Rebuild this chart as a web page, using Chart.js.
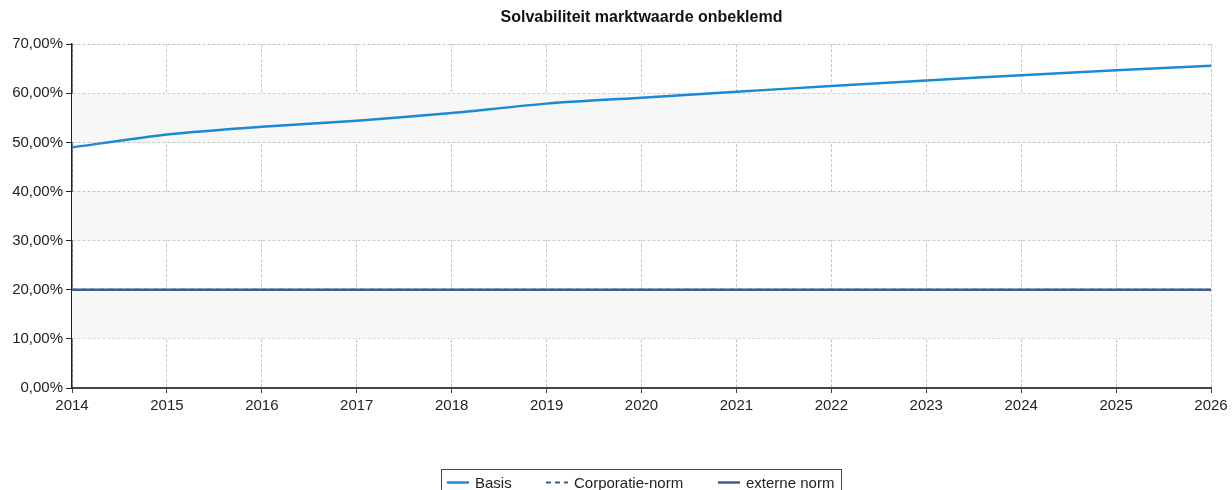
<!DOCTYPE html>
<html>
<head>
<meta charset="utf-8">
<title>Solvabiliteit marktwaarde onbeklemd</title>
<script src="https://cdn.jsdelivr.net/npm/chart.js@4"></script>
<style>
  html, body { margin: 0; padding: 0; background: #fff; }
  #wrap { width: 1232px; height: 490px; position: relative; }
</style>
</head>
<body>
<div id="wrap"><canvas id="chart"></canvas></div>
<script>
const years = ['2014', '2015', '2016', '2017', '2018', '2019', '2020', '2021', '2022', '2023', '2024', '2025', '2026'];
const basis = [49.0, 51.6, 53.2, 54.4, 56.0, 57.9, 59.1, 60.3, 61.5, 62.6, 63.7, 64.7, 65.6];
const corporatieNorm = [20, 20, 20, 20, 20, 20, 20, 20, 20, 20, 20, 20, 20];
const externeNorm = [20, 20, 20, 20, 20, 20, 20, 20, 20, 20, 20, 20, 20];
// grey bands behind the plot (from, to)
const bands = [[10, 20], [30, 40], [50, 60]];

const FONT = '"Liberation Sans", Arial, sans-serif';

const bandPlugin = {
    id: 'bands',
    beforeDatasetsDraw(chart) {
        const { ctx, chartArea, scales } = chart;
        ctx.save();
        ctx.fillStyle = '#f7f7f7';
        bands.forEach(b => {
            const y1 = scales.y.getPixelForValue(b[1]);
            const y2 = scales.y.getPixelForValue(b[0]);
            ctx.fillRect(chartArea.left, y1 + 0.5, chartArea.right - chartArea.left, y2 - y1 - 1);
        });
        ctx.restore();
    }
};

// boxed legend at the bottom, cut off by the canvas edge like the original
const legendPlugin = {
    id: 'boxLegend',
    afterDraw(chart) {
        const ctx = chart.ctx;
        const items = [
            { ds: 0, x: 447, tx: 475 },
            { ds: 1, x: 546, tx: 574 },
            { ds: 2, x: 718, tx: 746 }
        ];
        ctx.save();
        ctx.strokeStyle = '#444';
        ctx.lineWidth = 1;
        ctx.strokeRect(441.5, 469.5, 400, 40);
        ctx.font = '15px ' + FONT;
        ctx.textBaseline = 'middle';
        ctx.fillStyle = '#222';
        items.forEach(it => {
            const ds = chart.data.datasets[it.ds];
            ctx.beginPath();
            ctx.strokeStyle = ds.borderColor;
            ctx.lineWidth = ds.borderWidth;
            ctx.setLineDash(ds.borderDash || []);
            ctx.moveTo(it.x, 482.5);
            ctx.lineTo(it.x + 22, 482.5);
            ctx.stroke();
            ctx.setLineDash([]);
            ctx.fillText(ds.label, it.tx, 484);
        });
        ctx.restore();
    }
};

new Chart(document.getElementById('chart'), {
    type: 'line',
    data: {
        labels: years,
        datasets: [
            {
                label: 'Basis',
                data: basis,
                borderColor: '#1b8ad4',
                borderWidth: 2.5,
                pointRadius: 0,
                tension: 0.2,
                order: 0
            },
            {
                label: 'Corporatie-norm',
                data: corporatieNorm,
                borderColor: '#3b5e8c',
                borderWidth: 2,
                borderDash: [5, 4],
                pointRadius: 0,
                order: 2
            },
            {
                label: 'externe norm',
                data: externeNorm,
                borderColor: '#3b5e8c',
                borderWidth: 2.5,
                pointRadius: 0,
                order: 1
            }
        ]
    },
    options: {
        responsive: true,
        maintainAspectRatio: false,
        animation: false,
        layout: { padding: { left: 0, right: 21, top: 0, bottom: 0 } },
        plugins: {
            legend: { display: false },
            tooltip: { enabled: false },
            title: {
                display: true,
                fullSize: false,
                text: 'Solvabiliteit marktwaarde onbeklemd',
                color: '#111',
                font: { family: FONT, size: 16, weight: 'bold' },
                padding: { top: 8, bottom: 17 }
            }
        },
        scales: {
            x: {
                offset: false,
                afterFit: s => { s.height = 102; },
                grid: {
                    color: '#c4c4c4',
                    lineWidth: 1,
                    tickLength: 5,
                    tickColor: '#444',
                    tickBorderDash: [],
                    tickWidth: 1
                },
                border: { color: '#444', width: 2, dash: [3, 2] },
                ticks: {
                    color: '#222',
                    font: { family: FONT, size: 15 },
                    padding: 4,
                    maxRotation: 0,
                    autoSkip: false
                }
            },
            y: {
                min: 0,
                max: 70,
                afterFit: s => { s.width = 72; },
                grid: {
                    color: '#c4c4c4',
                    lineWidth: 1,
                    tickLength: 6,
                    tickColor: '#222',
                    tickBorderDash: [],
                    tickWidth: 1
                },
                border: { color: '#222', width: 1.5, dash: [3, 2] },
                ticks: {
                    stepSize: 10,
                    color: '#222',
                    font: { family: FONT, size: 15 },
                    padding: 3,
                    callback: v => v.toFixed(2).replace('.', ',') + '%'
                }
            }
        }
    },
    plugins: [bandPlugin, legendPlugin]
});
</script>
</body>
</html>
